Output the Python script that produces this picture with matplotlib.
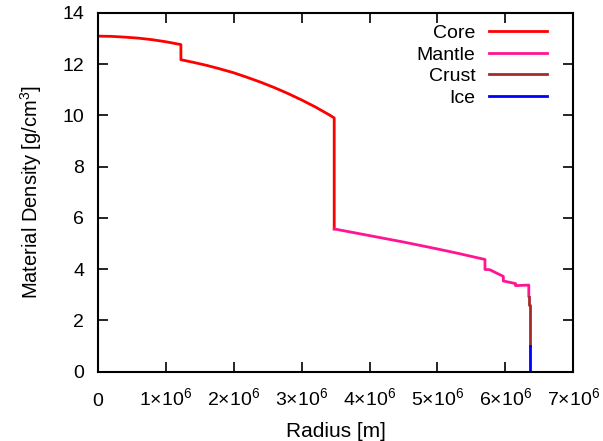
#!/usr/bin/env python3
"""Radial density profile of the layered planet model (core, mantle, crust, ice)."""

import matplotlib
matplotlib.use("Agg")
import matplotlib.pyplot as plt
import matplotlib.ticker as ticker

plt.rcParams["font.family"] = ["Liberation Sans", "DejaVu Sans"]
plt.rcParams["mathtext.fontset"] = "custom"
plt.rcParams["mathtext.rm"] = "Liberation Sans"

# radius [m] and density [g/cm^3] for each layer
core_r = [0.0, 0.2e6, 0.4e6, 0.6e6, 0.8e6, 1.0e6, 1.2215e6, 1.2215e6,
          1.4e6, 1.6e6, 1.8e6, 2.0e6, 2.2e6, 2.4e6, 2.6e6, 2.8e6,
          3.0e6, 3.2e6, 3.4e6, 3.48e6, 3.48e6]
core_rho = [13.09, 13.08, 13.05, 13.01, 12.95, 12.87, 12.76, 12.17,
            12.07, 11.95, 11.81, 11.66, 11.48, 11.29, 11.08, 10.85,
            10.60, 10.33, 10.03, 9.90, 5.57]

mantle_r = [3.48e6, 4.0e6, 4.5e6, 5.0e6, 5.3e6, 5.6e6, 5.701e6, 5.701e6,
            5.771e6, 5.971e6, 5.971e6, 6.151e6, 6.151e6, 6.3466e6, 6.3466e6]
mantle_rho = [5.57, 5.31, 5.06, 4.79, 4.62, 4.44, 4.38, 3.99,
              3.98, 3.72, 3.54, 3.44, 3.36, 3.38, 2.95]

crust_r = [6.3466e6, 6.356e6, 6.356e6, 6.368e6, 6.368e6]
crust_rho = [2.90, 2.90, 2.60, 2.60, 1.02]

ice_r = [6.368e6, 6.371e6, 6.371e6]
ice_rho = [1.02, 1.02, 0.0]

x_ticks = [0, 1e6, 2e6, 3e6, 4e6, 5e6, 6e6, 7e6]
x_labels = ["0"] + [f"{k}×10$^6$" for k in range(1, 8)]

fig = plt.figure(figsize=(6.03, 4.41), dpi=100)
ax = fig.add_axes([0.1625, 0.157, 0.788, 0.814])

ax.plot(core_r, core_rho, color="#ff0000", lw=2, label="Core")
ax.plot(mantle_r, mantle_rho, color="#ff1493", lw=2, label="Mantle")
ax.plot(crust_r, crust_rho, color="#a52a2a", lw=2, label="Crust")
ax.plot(ice_r, ice_rho, color="#0000ff", lw=2, label="Ice")

ax.set_xlim(0, 7e6)
ax.set_ylim(0, 14)
ax.set_xticks(x_ticks)
ax.set_xticklabels(x_labels)
ax.yaxis.set_major_locator(ticker.MultipleLocator(2))
ax.tick_params(direction="in", length=7, width=1.2, top=True, right=True,
               labelsize=14)
# put all x labels on one baseline so "0" lines up with the powers of ten
ax.tick_params(axis="x", pad=25)
for lbl in ax.get_xticklabels():
    lbl.set_verticalalignment("baseline")
ax.tick_params(axis="y", pad=10)
for sp in ax.spines.values():
    sp.set_linewidth(1.5)

ax.set_xlabel("Radius [m]", fontsize=15, labelpad=8)
ax.set_ylabel(r"Material Density [g/cm$^3$]", fontsize=14.5, labelpad=13)

ax.legend(loc="upper right", frameon=False, markerfirst=False, fontsize=14,
          handlelength=3.0, handletextpad=0.7, labelspacing=0.2,
          borderaxespad=0.2, bbox_to_anchor=(0.97, 1.0))

fig.savefig("out.png", dpi=100)
